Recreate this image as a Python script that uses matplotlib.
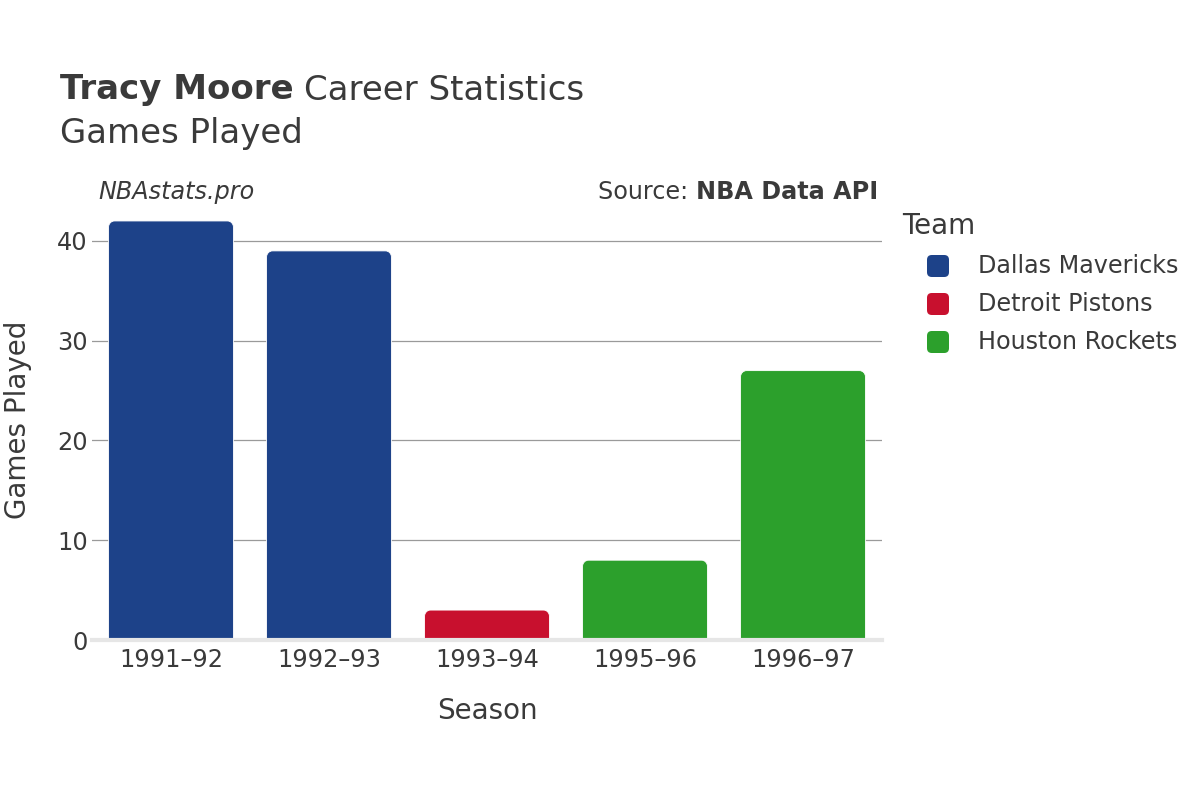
import matplotlib.pyplot as plt
import matplotlib.patches as patches
from matplotlib.path import Path

COLOR_DAL = "#1d4289"
COLOR_DET = "#c8102e"
COLOR_HOU = "#2ca02c"
TEXT = "#3a3a3a"

seasons = ["1991–92", "1992–93", "1993–94", "1995–96", "1996–97"]
games = [42, 39, 3, 8, 27]
teams = ["Dallas Mavericks", "Dallas Mavericks", "Detroit Pistons",
         "Houston Rockets", "Houston Rockets"]
legend_teams = ["Dallas Mavericks", "Detroit Pistons", "Houston Rockets"]
team_colors = {"Dallas Mavericks": COLOR_DAL, "Detroit Pistons": COLOR_DET,
               "Houston Rockets": COLOR_HOU}

plt.rcParams["font.family"] = ["DejaVu Sans"]

fig = plt.figure(figsize=(12, 8), dpi=100)
ax = fig.add_axes([92 / 1200, 1 - 640 / 800, 790 / 1200, 434 / 800])
ax.set_xlim(-0.5, len(seasons) - 0.5)
ax.set_ylim(0, 43.5)

# bars with rounded top corners only
bar_w = 0.79
px_x = 790 / len(seasons)
px_y = 434 / 43.5
r_px = 6
for i, (val, team) in enumerate(zip(games, teams)):
    x0, x1 = i - bar_w / 2, i + bar_w / 2
    rx = r_px / px_x
    ry = min(r_px / px_y, val / 2)
    k = 0.5523
    verts = [
        (x0, 0), (x0, val - ry),
        (x0, val - ry + k * ry), (x0 + rx - k * rx, val), (x0 + rx, val),
        (x1 - rx, val),
        (x1 - rx + k * rx, val), (x1, val - ry + k * ry), (x1, val - ry),
        (x1, 0), (x0, 0),
    ]
    codes = [Path.MOVETO, Path.LINETO,
             Path.CURVE4, Path.CURVE4, Path.CURVE4,
             Path.LINETO,
             Path.CURVE4, Path.CURVE4, Path.CURVE4,
             Path.LINETO, Path.CLOSEPOLY]
    ax.add_patch(patches.PathPatch(Path(verts, codes), facecolor=team_colors[team],
                                   edgecolor="white", lw=0.6, zorder=3))

ax.set_yticks([0, 10, 20, 30, 40])
ax.set_xticks(range(len(seasons)))
ax.set_xticklabels(seasons)
ax.tick_params(axis="both", labelsize=17.3, colors=TEXT, length=0)
ax.tick_params(axis="y", pad=3)
ax.tick_params(axis="x", pad=6)
ax.grid(axis="y", color="#9a9a9a", lw=0.9, zorder=0)
ax.set_axisbelow(True)
for s in ["top", "right", "left"]:
    ax.spines[s].set_visible(False)
ax.spines["bottom"].set_color("#e6e6e6")
ax.spines["bottom"].set_linewidth(3)
ax.spines["bottom"].set_zorder(4)

ax.set_xlabel("Season", fontsize=20, color=TEXT, labelpad=18)
ax.set_ylabel("Games Played", fontsize=20, color=TEXT)
ax.yaxis.set_label_coords((32 - 92) / 790, (640 - 420) / 434)

# titles
t1 = fig.text(60 / 1200, 1 - 90 / 800, "Tracy Moore", fontsize=24.5, fontweight="bold",
              color=TEXT, va="center")
renderer = fig.canvas.get_renderer()
bb = t1.get_window_extent(renderer)
fig.text((bb.x1 + 10) / 1200, 1 - 90 / 800, "Career Statistics", fontsize=24.5,
         color=TEXT, va="center")
fig.text(60 / 1200, 1 - 133 / 800, "Games Played", fontsize=24.5,
         color=TEXT, va="center")
fig.text(98 / 1200, 1 - 192 / 800, "NBAstats.pro", fontsize=17.2, style="italic",
         color=TEXT, va="center")
t2 = fig.text(878 / 1200, 1 - 192 / 800, "NBA Data API", fontsize=17.2,
              fontweight="bold", color=TEXT, va="center", ha="right")
bb2 = t2.get_window_extent(renderer)
fig.text(bb2.x0 / 1200, 1 - 192 / 800, "Source: ", fontsize=17.2, color=TEXT,
         va="center", ha="right")

# legend
fig.text(902 / 1200, 1 - 226 / 800, "Team", fontsize=20, color=TEXT, va="center")
for j, team in enumerate(legend_teams):
    yc = 266 + 38 * j
    sq = patches.FancyBboxPatch((927 / 1200, 1 - (yc + 11) / 800), 22 / 1200, 22 / 800,
                                boxstyle="round,pad=0,rounding_size=0.004",
                                facecolor=team_colors[team], edgecolor="none",
                                transform=fig.transFigure, mutation_aspect=1.5)
    fig.patches.append(sq)
    fig.text(978 / 1200, 1 - yc / 800, team, fontsize=17.2, color=TEXT, va="center")

fig.savefig("out.png", dpi=100)
